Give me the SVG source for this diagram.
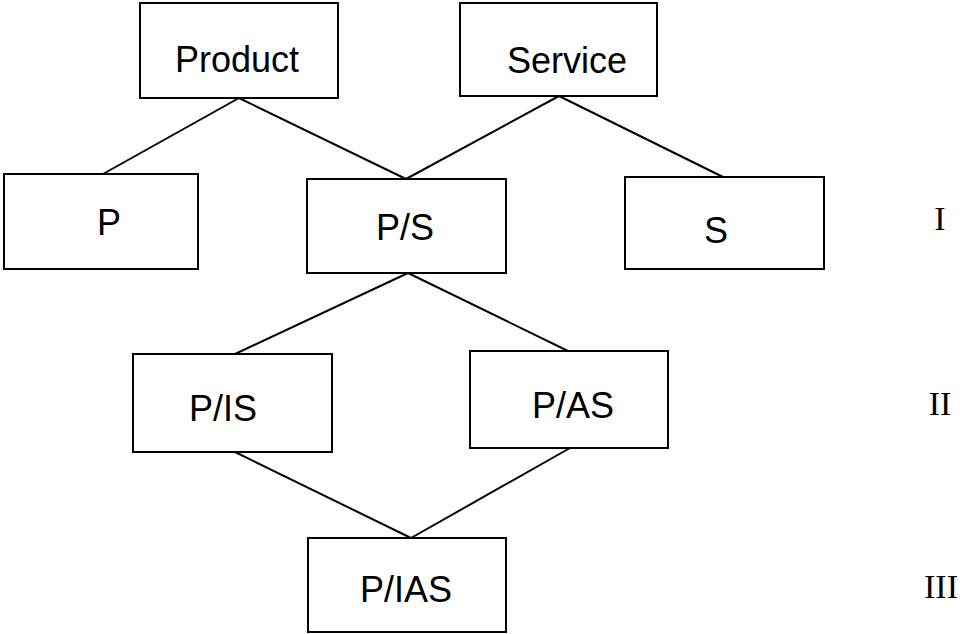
<svg xmlns="http://www.w3.org/2000/svg" width="960" height="634" viewBox="0 0 960 634">
<style>
.box{fill:#fff;stroke:#000;stroke-width:2}
.lbl{font-family:"Liberation Sans",Arial,sans-serif;font-size:36px;fill:#000;text-anchor:middle}
.num{font-family:"Liberation Serif","Times New Roman",serif;font-size:34px;fill:#000;text-anchor:middle}
.conn line{stroke:#000;stroke-width:2}
</style>
<rect width="960" height="634" fill="#fff"/>
<g class="conn" id="connectors">
<line x1="239" y1="98" x2="103" y2="174"/>
<line x1="239" y1="98" x2="406" y2="179"/>
<line x1="559" y1="96" x2="406" y2="179"/>
<line x1="559" y1="96" x2="723" y2="177"/>
<line x1="408" y1="273" x2="235" y2="354"/>
<line x1="408" y1="273" x2="568" y2="351"/>
<line x1="235" y1="452" x2="411" y2="538"/>
<line x1="570" y1="448" x2="411" y2="538"/>
</g>
<g id="product"><rect class="box" x="140" y="3" width="198" height="95"/><text class="lbl" x="237" y="72">Product</text></g>
<g id="service"><rect class="box" x="460" y="3" width="197" height="93"/><text class="lbl" x="567" y="73">Service</text></g>
<g id="p"><rect class="box" x="4" y="174" width="194" height="95"/><text class="lbl" x="109" y="235">P</text></g>
<g id="ps"><rect class="box" x="307" y="179" width="199" height="94"/><text class="lbl" x="405" y="240">P/S</text></g>
<g id="s"><rect class="box" x="625" y="177" width="199" height="92"/><text class="lbl" x="716" y="243">S</text></g>
<g id="pis"><rect class="box" x="133" y="354" width="199" height="98"/><text class="lbl" x="223" y="421">P/IS</text></g>
<g id="pas"><rect class="box" x="470" y="351" width="198" height="97"/><text class="lbl" x="573" y="418">P/AS</text></g>
<g id="pias"><rect class="box" x="308" y="538" width="198" height="94"/><text class="lbl" x="406" y="602">P/IAS</text></g>
<g id="levels">
<text class="num" x="940" y="230">I</text>
<text class="num" x="940" y="415">II</text>
<text class="num" x="941" y="598">III</text>
</g>
</svg>
